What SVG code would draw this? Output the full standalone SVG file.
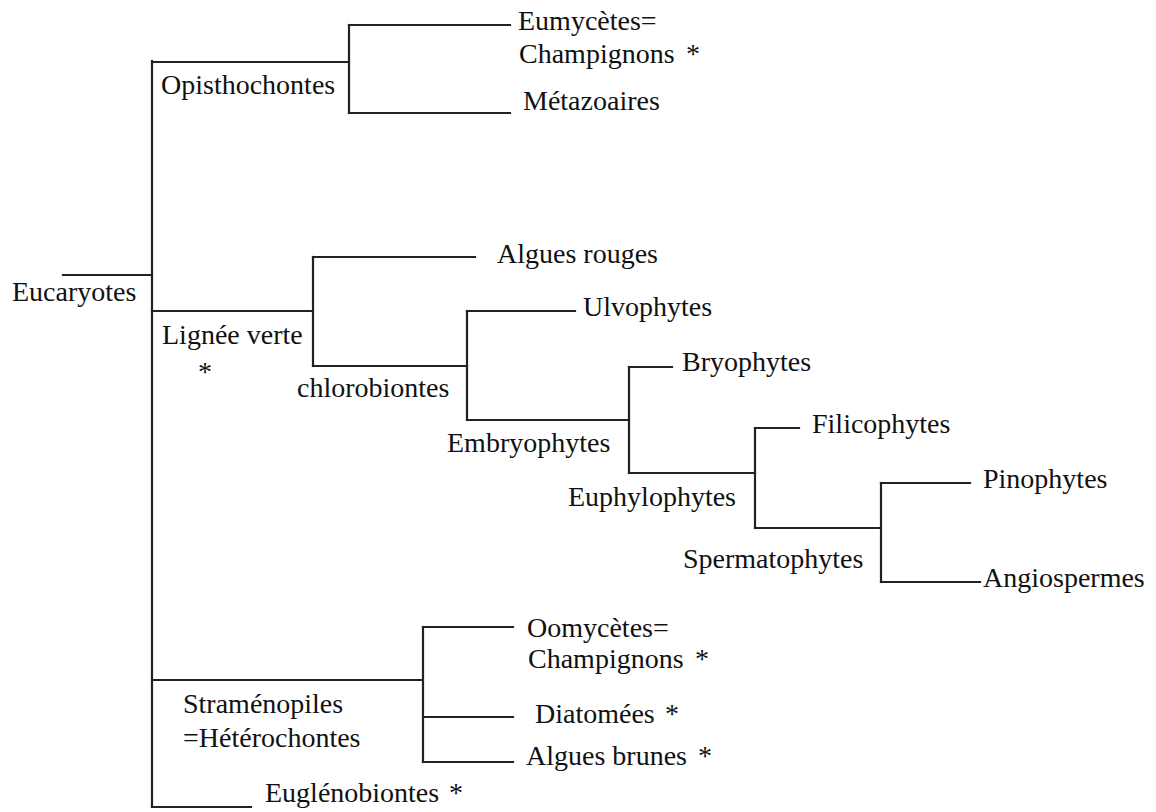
<svg xmlns="http://www.w3.org/2000/svg" width="1156" height="812" viewBox="0 0 1156 812">
<style>
  .ln { stroke: #222; stroke-width: 2.2; fill: none; stroke-linecap: square; }
  .t { font-family: 'Liberation Serif', 'Times New Roman', serif; font-size: 28px; fill: #111; }
</style>
<rect width="1156" height="812" fill="#fff"/>
<g id="connectors">
  <path class="ln" d="M63 275 H152"/>
  <path class="ln" d="M152 61 V807"/>
  <path class="ln" d="M152 62 H349"/>
  <path class="ln" d="M349 25 V113"/>
  <path class="ln" d="M349 25 H510"/>
  <path class="ln" d="M349 113 H510"/>
  <path class="ln" d="M152 311 H313"/>
  <path class="ln" d="M313 257 V366"/>
  <path class="ln" d="M313 257 H475"/>
  <path class="ln" d="M313 366 H467"/>
  <path class="ln" d="M467 311 V420"/>
  <path class="ln" d="M467 311 H575"/>
  <path class="ln" d="M467 420 H629"/>
  <path class="ln" d="M629 367 V473"/>
  <path class="ln" d="M629 367 H672"/>
  <path class="ln" d="M629 473 H755"/>
  <path class="ln" d="M755 428 V528"/>
  <path class="ln" d="M755 428 H799"/>
  <path class="ln" d="M755 528 H881"/>
  <path class="ln" d="M881 483 V582"/>
  <path class="ln" d="M881 483 H970"/>
  <path class="ln" d="M881 582 H980"/>
  <path class="ln" d="M152 680 H423"/>
  <path class="ln" d="M423 627 V762"/>
  <path class="ln" d="M423 627 H513"/>
  <path class="ln" d="M423 717 H513"/>
  <path class="ln" d="M423 762 H513"/>
  <path class="ln" d="M152 807 H251"/>
</g>
<g id="eucaryotes"><text class="t" x="12" y="301">Eucaryotes</text></g>
<g id="opisthochontes"><text class="t" x="161" y="94">Opisthochontes</text></g>
<g id="eumycetes"><text class="t" x="518" y="30">Eumycètes=</text><text class="t" x="519" y="63">Champignons<tspan x="686">*</tspan></text></g>
<g id="metazoaires"><text class="t" x="523" y="110">Métazoaires</text></g>
<g id="lignee-verte"><text class="t" x="162" y="344">Lignée  verte</text><text class="t" x="198" y="381">*</text></g>
<g id="algues-rouges"><text class="t" x="497" y="263">Algues rouges</text></g>
<g id="chlorobiontes"><text class="t" x="297" y="397">chlorobiontes</text></g>
<g id="ulvophytes"><text class="t" x="583" y="316">Ulvophytes</text></g>
<g id="embryophytes"><text class="t" x="447" y="452">Embryophytes</text></g>
<g id="bryophytes"><text class="t" x="682" y="371">Bryophytes</text></g>
<g id="euphylophytes"><text class="t" x="568" y="506">Euphylophytes</text></g>
<g id="filicophytes"><text class="t" x="812" y="433">Filicophytes</text></g>
<g id="spermatophytes"><text class="t" x="683" y="568">Spermatophytes</text></g>
<g id="pinophytes"><text class="t" x="983" y="488">Pinophytes</text></g>
<g id="angiospermes"><text class="t" x="983" y="587">Angiospermes</text></g>
<g id="stramenopiles"><text class="t" x="183" y="713">Straménopiles</text><text class="t" x="183" y="747">=Hétérochontes</text></g>
<g id="oomycetes"><text class="t" x="527" y="637">Oomycètes=</text><text class="t" x="528" y="668">Champignons<tspan x="695">*</tspan></text></g>
<g id="diatomees"><text class="t" x="535" y="723">Diatomées<tspan x="665">*</tspan></text></g>
<g id="algues-brunes"><text class="t" x="526" y="765">Algues brunes<tspan x="698">*</tspan></text></g>
<g id="euglenobiontes"><text class="t" x="265" y="802">Euglénobiontes<tspan x="449">*</tspan></text></g>
</svg>
